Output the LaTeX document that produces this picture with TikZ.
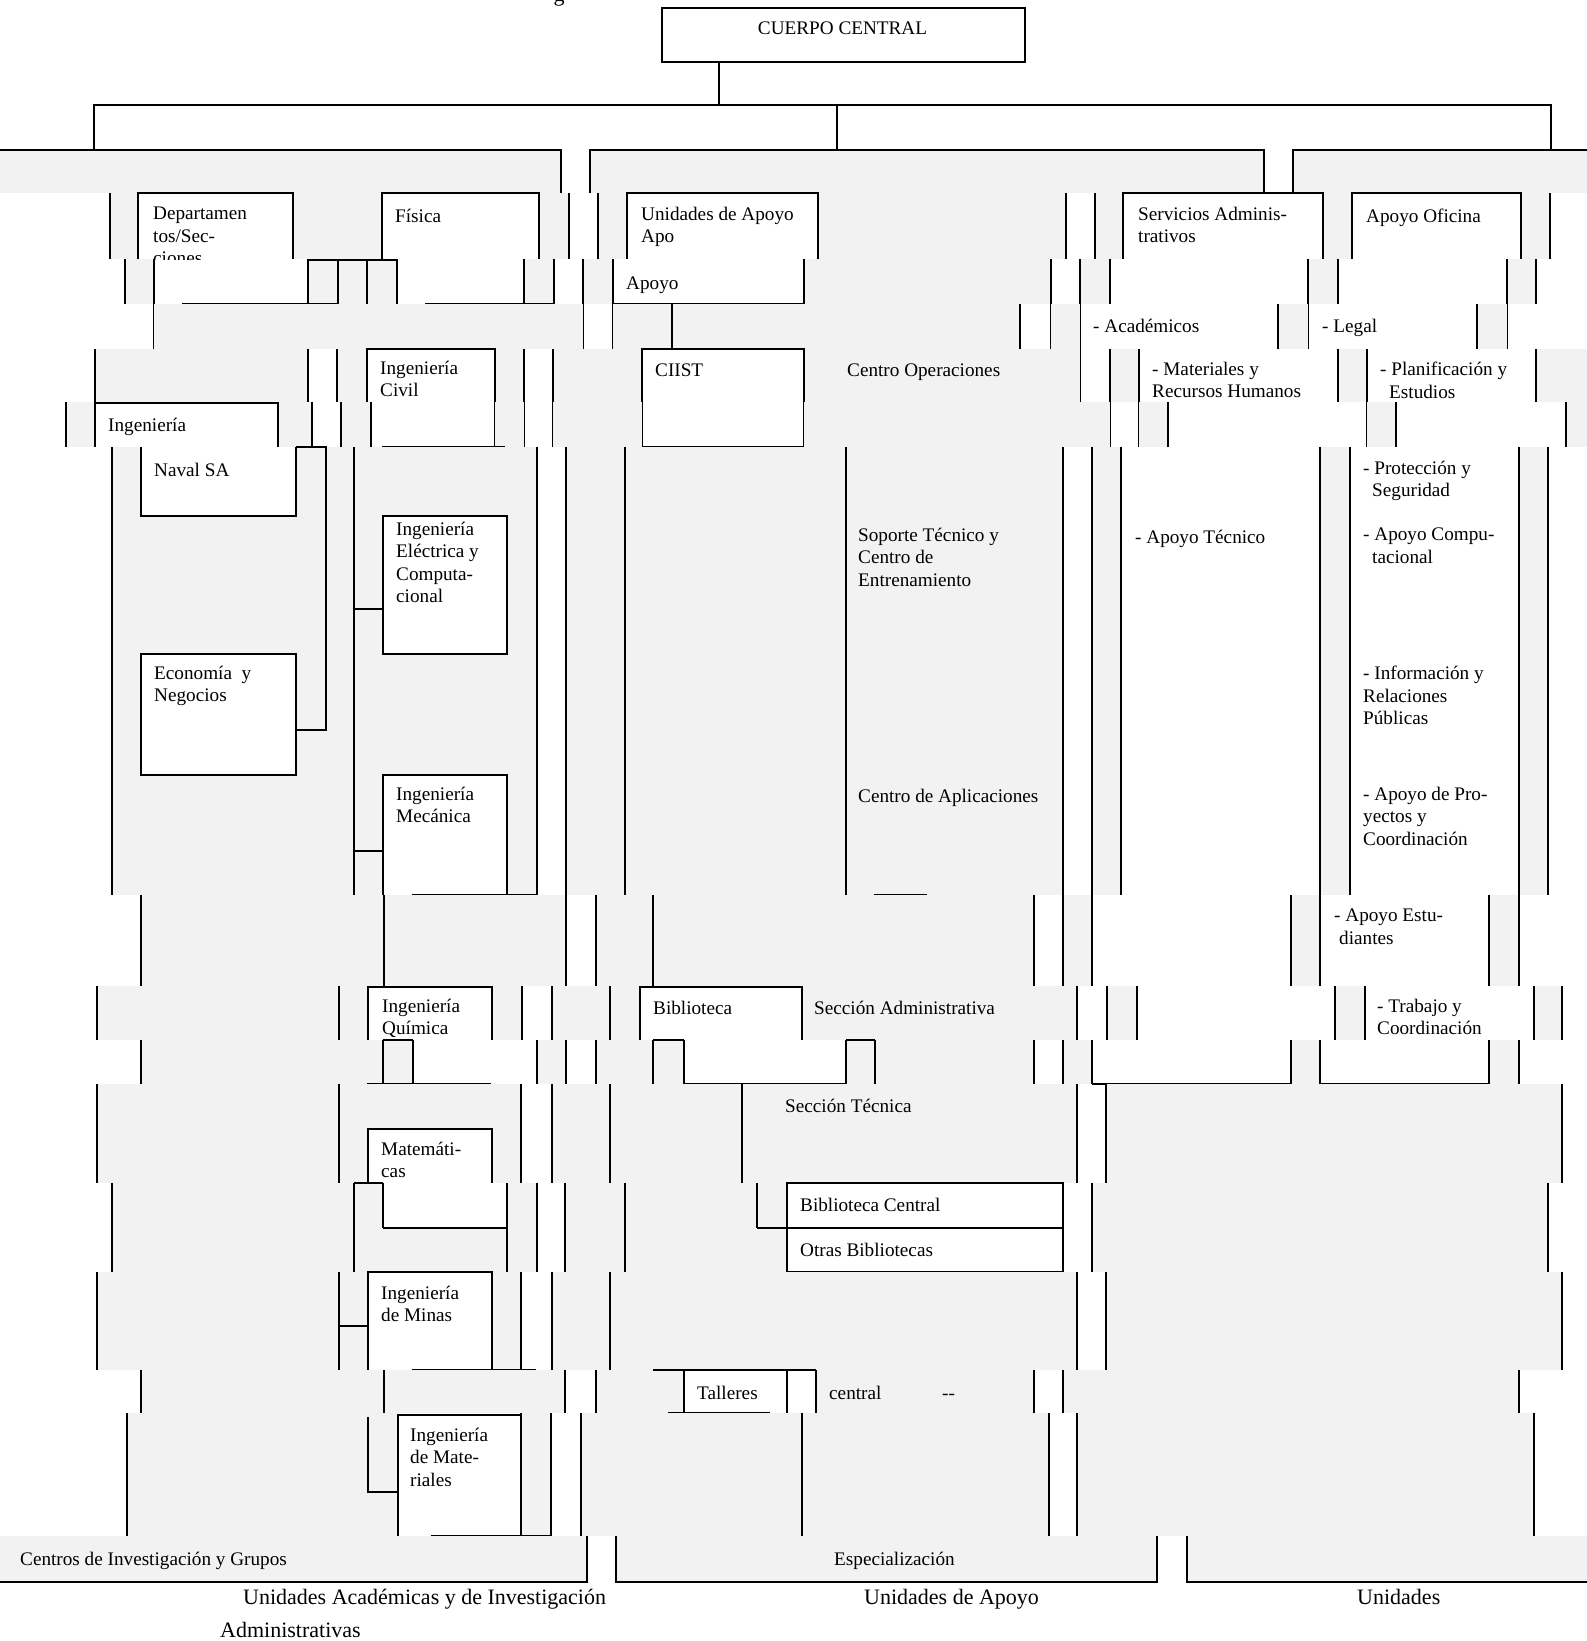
\documentclass[tikz,border=0pt]{standalone}
\usepackage{fontspec}
\setmainfont{Liberation Serif}
\usetikzlibrary{positioning}

\definecolor{panelgray}{HTML}{F2F2F2}
\newcommand{\lblfont}{\fontsize{19.2}{22.3}\selectfont}
\newcommand{\capfont}{\fontsize{22}{26}\selectfont}
\newcommand{\grayfill}[3]{\foreach \a/\b in {#3} {\fill[panel] (\a,#1) rectangle (\b,#2);}}
\newcommand{\vrules}[3]{\foreach \x in {#3} {\draw[rule] (\x,#1) -- (\x,#2);}}

\begin{document}
\begin{tikzpicture}[x=1pt,y=-1pt,
  panel/.style={fill=panelgray},
  rule/.style={line width=1.6pt},
  box/.style={line width=1.9pt},
  lbl/.style={anchor=north west,inner sep=0pt,align=left,font=\lblfont,
    yshift=-2pt,execute at begin node=\strut},
  captxt/.style={anchor=base west,inner sep=0pt,font=\capfont}]
\useasboundingbox (0,0) rectangle (1587,1641);

% head of the chart
\node[captxt,anchor=base] (titulo) at (559,1) {g};
\node[draw,box,anchor=north west,minimum width=363pt,minimum height=54pt,inner sep=0pt] (cuerpo) at (661,7) {};
\node[lbl,anchor=north] (cuerpotxt) at (842.5,17) {CUERPO CENTRAL};
\coordinate (trunk) at (719,105);
\coordinate (ramaA) at (94,150);
\coordinate (ramaB) at (837,150);
\coordinate (ramaC) at (1551,150);
\draw[rule] (trunk |- cuerpo.south) -- (trunk);
\draw[rule] (ramaA) |- (trunk) -| (ramaC);
\draw[rule] (ramaB) -- (ramaB |- trunk);

% band 1
\grayfill{150}{193}{0/561,590/1264,1293/1587}
\draw[rule] (0,150) -- (561,150) -- (561,193);
\draw[rule] (590,193) -- (590,150) -- (1264,150) -- (1264,193);
\draw[rule] (1293,193) -- (1293,150) -- (1587,150);

% band 2
\grayfill{193}{259}{110/138,293/382,539/569,598/627,818/1066,1095/1123,1323/1352,1521/1550}
\vrules{193}{259}{110,569,598,1066,1095,1550}
\foreach \a/\b in {138/293,382/539,627/818,1123/1323,1352/1521}
  \draw[box] (\a,259) -- (\a,193) -- (\b,193) -- (\b,259);
\begin{scope}
  \clip (138,193) rectangle (293,259);
  \node[lbl] (deptos) at (153,205) {Departamen\\tos/Sec-\\ciones};
\end{scope}
\node[lbl] (fisica) at (395,205) {Física};
\node[lbl] (unidades) at (641,205) {Unidades de Apoyo\\Apo};
\node[lbl] (servicios) at (1138,205) {Servicios Adminis-\\trativos};
\node[lbl] (oficina) at (1366,205) {Apoyo Oficina};

% band 3
\grayfill{259}{304}{125/154,308/397,524/554,583/613,804/1051,1080/1110,1308/1338,1507/1536}
\vrules{259}{304}{125,308,338,524,554,804,1110,1338,1536}
\vrules{259}{349}{154,397,583,1051,1308,1507}
\vrules{259}{403}{367,1080}
\vrules{259}{447}{613}
\draw[rule] (182,304) -- (338,304);
\draw[rule] (425,304) -- (554,304);
\draw[rule] (308,260) -- (397,260);
\draw[box] (613,304) -- (804,304);
\node[lbl] (apoyo) at (626,272) {Apoyo};

% band 4
\grayfill{304}{349}{154/583,613/1020,1051/1080,1278/1308,1477/1507}
\vrules{304}{349}{672,1020,1278,1477}
\node[lbl] (academicos) at (1093,315) {- Académicos};
\node[lbl] (legal) at (1322,315) {- Legal};

% band 5
\grayfill{349}{402}{95/308,337/367,495/524,553/642,804/1080,1110/1139,1338/1367,1536/1587}
\vrules{349}{402}{308,337,1338,1536}
\vrules{349}{447}{95,524,553,1110,1139,1367}
\draw[box] (367,402) -- (367,349) -- (495,349) -- (495,447);
\draw[box] (642,349) rectangle (804,447);
\draw[rule] (340,403) -- (367,403);
\draw[rule] (613,403) -- (642,403);
\draw[rule] (804,403) -- (833,403) -- (833,447);
\node[lbl] (civil) at (380,359) {Ingeniería\\Civil};
\node[lbl] (ciist) at (655,359) {CIIST};
\node[lbl] (operaciones) at (847,359) {Centro Operaciones};
\node[lbl] (materiales) at (1152,360) {- Materiales y\\Recursos Humanos};
\node[lbl] (planificacion) at (1380,360) {- Planificación y\\\hspace*{9pt}Estudios};

% band 6
\grayfill{402}{447}{66/95,278/312,341/371,495/524,553/642,804/1110,1139/1168,1367/1396,1566/1587}
\vrules{402}{447}{66,312,341,371,1168,1396,1566}
\draw[box] (95,447) -- (95,403) -- (278,403) -- (278,447);
\draw[box] (382,447) -- (505,447);
\node[lbl] (ingenieria) at (108,414) {Ingeniería};

% band 7
\grayfill{447}{895}{112/537,566/1063,1092/1121,1320/1350,1519/1548}
\draw[box,fill=white] (141,447) -- (141,516) -- (296,516) -- (296,447);
\draw[box,fill=white] (141,654) rectangle (296,775);
\draw[box,fill=white] (383,516) rectangle (507,654);
\draw[box,fill=white] (383,895) -- (383,775) -- (507,775) -- (507,895);
\vrules{447}{895}{112,354,537,566,625,846,1063,1092,1121,1320,1350,1519,1548}
\draw[rule] (296,447) -- (326,447) -- (326,730) -- (296,730);
\draw[rule] (354,609) -- (383,609);
\draw[rule] (354,851) -- (383,851);
\draw[rule] (412,895) -- (537,895);
\draw[rule] (874,895) -- (927,895);
\node[lbl] (naval) at (154,459) {Naval SA};
\node[lbl] (economia) at (154,664) {Economía\ \ y\\Negocios};
\node[lbl] (electrica) at (396,520) {Ingeniería\\Eléctrica y\\Computa-\\cional};
\node[lbl] (mecanica) at (396,785) {Ingeniería\\Mecánica};
\node[lbl] (soporte) at (858,526) {Soporte Técnico y\\Centro de\\Entrenamiento};
\node[lbl] (aplicaciones) at (858,785) {Centro de Aplicaciones};
\node[lbl] (apoyotec) at (1135,526) {- Apoyo Técnico};
\node[lbl] (proteccion) at (1363,459) {- Protección y\\\hspace*{9pt}Seguridad};
\node[lbl] (computacional) at (1363,526) {- Apoyo Compu-\\\hspace*{9pt}tacional};
\node[lbl] (informacion) at (1363,664) {- Información y\\Relaciones\\Públicas};
\node[lbl] (proyectos) at (1363,785) {- Apoyo de Pro-\\yectos y\\Coordinación};

% band 8
\grayfill{895}{986}{141/566,596/1034,1063/1092,1291/1320,1489/1519}
\vrules{895}{986}{141,384,566,596,653,1034,1063,1092,1291,1320,1489,1519}
\node[lbl] (estudiantes) at (1334,907) {- Apoyo Estu-\\\hspace*{5pt}diantes};

% band 9
\grayfill{986}{1040}{97/368,492/522,552/640,802/1077,1107/1137,1335/1365,1534/1562}
\vrules{986}{1040}{97,339,522,552,610,1077,1107,1137,1335,1365,1534,1562}
\draw[box] (368,1040) -- (368,987) -- (492,987) -- (492,1040);
\draw[box] (640,1040) -- (640,987) -- (802,987) -- (802,1040);
\node[lbl] (quimica) at (382,997) {Ingeniería\\Química};
\node[lbl] (biblioteca) at (653,997) {Biblioteca};
\node[lbl] (seccadm) at (814,997) {Sección Administrativa};
\node[lbl] (trabajo) at (1377,997) {- Trabajo y\\Coordinación};

% band 10
\grayfill{1040}{1084}{141/413,537/566,596/684,846/1034,1063/1092,1291/1320,1489/1519}
\vrules{1040}{1084}{141,383,413,537,566,596,653,684,846,875,1034,1063,1092,1291,1320,1489,1519}
\draw[rule] (383,1040) -- (413,1040);
\draw[rule] (653,1040) -- (684,1040);
\draw[rule] (846,1040) -- (875,1040);
\draw[rule] (367,1084) -- (491,1084);
\draw[rule] (684,1084) -- (846,1084);
\draw[rule] (1092,1084) -- (1291,1084);
\draw[rule] (1320,1084) -- (1489,1084);

% band 11
\grayfill{1084}{1183}{97/521,552/1077,1106/1562}
\draw[box,fill=white] (368,1183) -- (368,1129) -- (492,1129) -- (492,1183);
\vrules{1084}{1183}{97,339,521,552,610,742,1077,1106,1562}
\node[lbl] (secctec) at (785,1095) {Sección Técnica};
\node[lbl] (matematicas) at (381,1140) {Matemáti-\\cas};

% band 12
\grayfill{1183}{1272}{112/383,507/537,565/787,1092/1548}
\fill[panel] (383,1228) rectangle (507,1272);
\vrules{1183}{1272}{112,354,507,537,565,625,1092,1548}
\vrules{1183}{1228}{383,757}
\draw[rule] (354,1183) -- (383,1183);
\draw[rule] (383,1228) -- (507,1228);
\draw[rule] (757,1228) -- (787,1228);
\draw[box] (787,1183) rectangle (1063,1228);
\draw[box] (787,1228) rectangle (1063,1272);
\node[lbl] (bibcentral) at (800,1194) {Biblioteca Central};
\node[lbl] (otras) at (800,1239) {Otras Bibliotecas};

% band 13
\grayfill{1272}{1370}{97/368,492/521,552/1077,1106/1562}
\vrules{1272}{1370}{97,339,521,552,610,1077,1106,1562}
\draw[box] (368,1370) -- (368,1272) -- (492,1272) -- (492,1370);
\draw[rule] (339,1326) -- (368,1326);
\draw[rule] (412,1370) -- (536,1370);
\node[lbl] (minas) at (381,1284) {Ingeniería\\de Minas};

% band 14
\grayfill{1370}{1413}{141/565,596/684,816/1034,1063/1519}
\vrules{1370}{1413}{141,384,565,596,684,787,816,1034,1063,1519}
\draw[rule] (653,1370) -- (816,1370);
\draw[rule] (668,1413) -- (770,1413);
\node[lbl] (talleres) at (697,1382) {Talleres};
\node[lbl] (central) at (829,1382) {central};
\node[lbl] (guiones) at (942,1382) {-{}-};

% band 15
\grayfill{1413}{1536}{127/398,521/551,581/1049,1077/1534}
\vrules{1413}{1536}{127,521,551,581,802,1049,1077,1534}
\draw[rule] (368,1417) -- (368,1492) -- (398,1492);
\draw[box] (398,1536) -- (398,1415) -- (521,1415);
\draw[rule] (431,1536) -- (551,1536);
\node[lbl] (ingmateriales) at (410,1426) {Ingeniería\\de Mate-\\riales};

% band 16
\grayfill{1536}{1582}{0/587,616/1157,1187/1587}
\draw[rule] (0,1582) -- (587,1582) -- (587,1536);
\draw[rule] (616,1536) -- (616,1582) -- (1157,1582) -- (1157,1536);
\draw[rule] (1187,1536) -- (1187,1582) -- (1587,1582);
\node[lbl] (centros) at (20,1548) {Centros de Investigación y Grupos};
\node[lbl] (especializacion) at (834,1548) {Especialización};

% captions
\node[captxt] (uacad) at (243,1604) {Unidades\ Académicas\ y\ de\ Investigación};
\node[captxt] (uadmin) at (220,1637) {Administrativas};
\node[captxt] (uapoyo) at (864,1604) {Unidades de Apoyo};
\node[captxt] (unidadesb) at (1357,1604) {Unidades};
\end{tikzpicture}
\end{document}
